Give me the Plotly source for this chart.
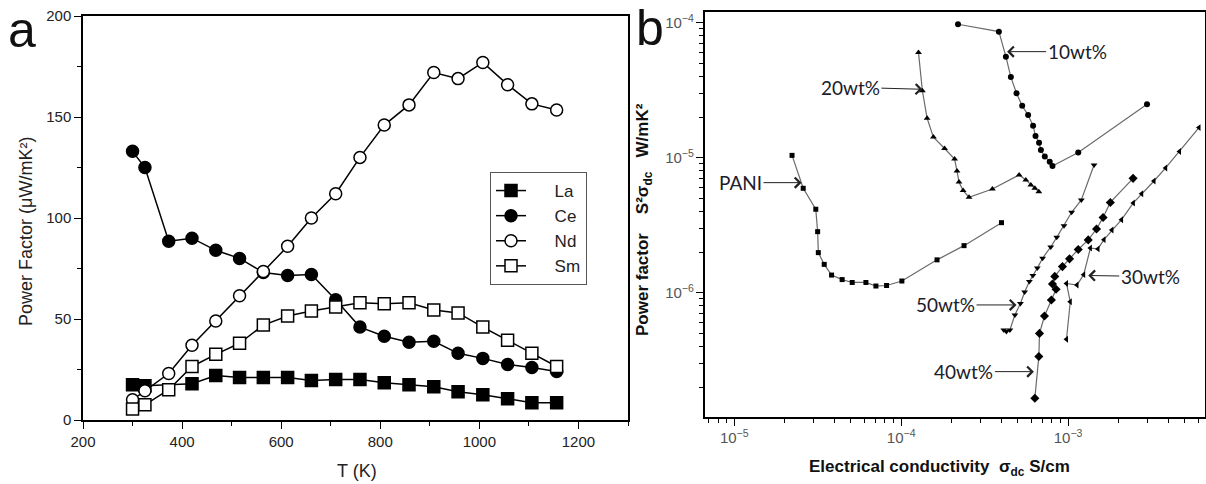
import math
import plotly.graph_objects as go

# ---------------- Panel a data ----------------
T_K = [300, 325, 373, 420, 468, 516, 564, 613, 661, 710, 759, 808, 858, 908, 957, 1007, 1057, 1106, 1156]
T_LA = [300, 325, 420, 468, 516, 564, 613, 661, 710, 759, 808, 858, 908, 957, 1007, 1057, 1106, 1156]
PF_LA = [17.5, 17, 18, 22, 21, 21, 21, 19.5, 20, 20, 18.5, 17.5, 16.5, 14, 12.5, 10.5, 8.5, 8.5]
PF_CE = [133, 125, 88.5, 90, 84, 80, 73, 71.5, 72, 59.5, 46, 41.5, 38.5, 39, 33, 30.5, 27.5, 26, 24]
PF_ND = [10, 14.5, 23, 37, 49, 61.5, 73.5, 86, 100, 112, 130, 146, 156, 172, 169, 177, 166, 156.5, 153.5]
PF_SM = [5.5, 7.5, 15, 26.5, 32.5, 38, 47, 51.5, 54, 56, 58, 57.5, 58, 54.5, 53, 46, 39.5, 33, 26.5]

# ---------------- Panel b data ----------------
PANI_X = [2.22e-5, 2.59e-5, 3.08e-5, 3.16e-5, 3.19e-5, 3.46e-5, 3.83e-5, 4.43e-5, 5.09e-5, 6.15e-5, 7.06e-5, 8.18e-5, 1.01e-4, 1.64e-4, 2.38e-4, 3.99e-4]
PANI_Y = [1.04e-5, 5.93e-6, 4.15e-6, 2.83e-6, 1.98e-6, 1.62e-6, 1.35e-6, 1.25e-6, 1.19e-6, 1.19e-6, 1.12e-6, 1.13e-6, 1.22e-6, 1.75e-6, 2.23e-6, 3.30e-6]

W10_X = [2.19e-4, 3.85e-4, 4.24e-4, 4.54e-4, 4.91e-4, 5.31e-4, 5.76e-4, 6.17e-4, 6.38e-4, 6.70e-4, 6.87e-4, 7.25e-4, 7.76e-4, 8.06e-4, 1.15e-3, 2.97e-3]
W10_Y = [9.73e-5, 8.58e-5, 5.60e-5, 3.95e-5, 3.00e-5, 2.42e-5, 2.07e-5, 1.72e-5, 1.45e-5, 1.29e-5, 1.14e-5, 1.02e-5, 9.34e-6, 8.68e-6, 1.09e-5, 2.49e-5]

W20_X = [1.27e-4, 1.34e-4, 1.43e-4, 1.56e-4, 1.82e-4, 2.09e-4, 2.16e-4, 2.22e-4, 2.35e-4, 2.55e-4, 3.52e-4, 5.09e-4, 5.58e-4, 5.98e-4, 6.32e-4, 6.68e-4]
W20_Y = [6.0e-5, 3.13e-5, 1.96e-5, 1.42e-5, 1.17e-5, 9.77e-6, 7.96e-6, 6.6e-6, 5.70e-6, 5.09e-6, 5.86e-6, 7.45e-6, 6.84e-6, 6.28e-6, 5.93e-6, 5.60e-6]

W30_X = [6.08e-3, 4.65e-3, 3.84e-3, 3.27e-3, 2.76e-3, 2.46e-3, 2.09e-3, 1.83e-3, 1.64e-3, 1.51e-3, 1.36e-3, 1.24e-3, 1.13e-3, 9.78e-4, 1.03e-3, 9.78e-4]
W30_Y = [1.67e-5, 1.11e-5, 8.39e-6, 6.72e-6, 5.40e-6, 4.62e-6, 3.47e-6, 2.91e-6, 2.47e-6, 2.11e-6, 2.14e-6, 1.36e-6, 1.14e-6, 1.17e-6, 8.57e-7, 4.52e-7]

W40_X = [2.45e-3, 1.79e-3, 1.62e-3, 1.48e-3, 1.32e-3, 1.15e-3, 1.02e-3, 9.25e-4, 8.32e-4, 8.06e-4, 8.47e-4, 7.94e-4, 7.22e-4, 6.74e-4, 6.68e-4, 6.32e-4]
W40_Y = [7.03e-6, 4.66e-6, 3.60e-6, 2.96e-6, 2.46e-6, 2.09e-6, 1.78e-6, 1.56e-6, 1.32e-6, 1.16e-6, 1.06e-6, 8.83e-7, 6.72e-7, 4.99e-7, 3.37e-7, 1.65e-7]

W50_X = [1.43e-3, 1.20e-3, 1.05e-3, 9.45e-4, 8.55e-4, 7.87e-4, 7.03e-4, 6.54e-4, 6.15e-4, 5.86e-4, 5.49e-4, 5.18e-4, 4.80e-4, 4.48e-4, 4.27e-4, 4.12e-4]
W50_Y = [8.83e-6, 4.86e-6, 3.94e-6, 3.13e-6, 2.57e-6, 2.18e-6, 1.80e-6, 1.52e-6, 1.34e-6, 1.21e-6, 1.01e-6, 8.31e-7, 6.84e-7, 5.29e-7, 5.16e-7, 5.29e-7]

# label annotations in panel b (text, target x, target y)
LABELS = ["10wt%", "20wt%", "PANI", "50wt%", "40wt%", "30wt%"]
LABEL_X = [4.31e-4, 1.34e-4, 2.53e-5, 4.91e-4, 6.24e-4, 1.32e-3]
LABEL_Y = [6.1e-5, 3.21e-5, 6.53e-6, 8.11e-7, 2.60e-7, 1.34e-6]
LABEL_AX = [70, -72, -61, -71, -70, 62]
LABEL_AY = [0, -2, 0, 0, 0, 1]

W, H = 1206, 484
FONT = "Liberation Sans, Arial, sans-serif"
PAD = "\u00a0" * 5   # widens the legend's symbol column like the reference

fig = go.Figure()

series_a = [
    ("La", T_LA, PF_LA, "square", "black"),
    ("Ce", T_K, PF_CE, "circle", "black"),
    ("Nd", T_K, PF_ND, "circle", "white"),
    ("Sm", T_K, PF_SM, "square", "white"),
]
for name, xs, ys, sym, fill in series_a:
    fig.add_trace(go.Scatter(
        x=xs, y=ys, name=PAD + name, mode="lines+markers",
        line=dict(color="black", width=1.5),
        marker=dict(symbol=sym, size=12, color=fill, line=dict(color="black", width=1.5)),
        xaxis="x", yaxis="y"))

series_b = [
    (PANI_X, PANI_Y, "square", 5),
    (W10_X, W10_Y, "circle", 6),
    (W20_X, W20_Y, "triangle-up", 6),
    (W30_X, W30_Y, "triangle-left", 6),
    (W40_X, W40_Y, "diamond", 7),
    (W50_X, W50_Y, "triangle-down", 6),
]
for xs, ys, sym, sz in series_b:
    fig.add_trace(go.Scatter(
        x=xs, y=ys, mode="lines+markers", showlegend=False,
        line=dict(color="#6a6a6a", width=1.2),
        marker=dict(symbol=sym, size=sz, color="black"),
        xaxis="x2", yaxis="y2"))

axis_common = dict(showline=True, linewidth=1.5, linecolor="black", mirror=True,
                   showgrid=False, zeroline=False, ticks="outside", tickcolor="black",
                   tickwidth=1.2, automargin=False)

fig.update_layout(
    width=W, height=H, margin=dict(l=0, r=0, t=0, b=0, pad=0, autoexpand=False),
    paper_bgcolor="white", plot_bgcolor="white",
    font=dict(family=FONT, color="#222222"),
    xaxis=dict(domain=[83 / W, 628 / W], range=[200, 1300], tick0=200, dtick=200,
               ticklen=7, tickfont=dict(size=15, color="#222"),
               minor=dict(dtick=100, ticks="outside", ticklen=4, tickcolor="black", tickwidth=1.2, showgrid=False),
               anchor="y", **axis_common),
    yaxis=dict(domain=[64 / H, 468 / H], range=[0, 200], tick0=0, dtick=50,
               ticklen=7, tickfont=dict(size=15, color="#222"),
               minor=dict(dtick=25, ticks="outside", ticklen=4, tickcolor="black", tickwidth=1.2, showgrid=False),
               anchor="x", **axis_common),
    xaxis2=dict(type="log", domain=[705 / W, 1205 / W], range=[-5.175, -2.18], dtick=1,
                exponentformat="power", showexponent="all",
                ticklen=7, tickfont=dict(size=12, color="#555"),
                minor=dict(dtick="D1", ticks="outside", ticklen=4, tickcolor="black", tickwidth=1.2, showgrid=False),
                anchor="y2", **axis_common),
    yaxis2=dict(type="log", domain=[67 / H, 472 / H], range=[-6.921, -3.921], dtick=1,
                exponentformat="power", showexponent="all",
                ticklen=7, tickfont=dict(size=12, color="#555"),
                minor=dict(dtick="D1", ticks="outside", ticklen=4, tickcolor="black", tickwidth=1.2, showgrid=False),
                anchor="x2", **axis_common),
    legend=dict(x=490 / W, y=(H - 172) / H, xanchor="left", yanchor="top",
                bordercolor="#555", borderwidth=1, bgcolor="white",
                font=dict(size=17, family=FONT, color="#222"), tracegroupgap=0,
                itemwidth=30),
)

ann = []
# panel letters
ann.append(dict(text="a", x=21.5 / W, y=(H - 30) / H, xref="paper", yref="paper",
                showarrow=False, font=dict(size=50, family=FONT, color="#111"),
                xanchor="center", yanchor="middle"))
ann.append(dict(text="b", x=650 / W, y=(H - 28) / H, xref="paper", yref="paper",
                showarrow=False, font=dict(size=50, family=FONT, color="#111"),
                xanchor="center", yanchor="middle"))
# axis titles panel a
ann.append(dict(text="Power Factor (\u03bcW/mK\u00b2)", x=26 / W, y=(H - 232) / H,
                xref="paper", yref="paper", showarrow=False, textangle=-90,
                font=dict(size=18, family=FONT, color="#222"),
                xanchor="center", yanchor="middle"))
ann.append(dict(text="T (K)", x=357 / W, y=(H - 471) / H, xref="paper", yref="paper",
                showarrow=False, font=dict(size=18, family=FONT, color="#222"),
                xanchor="center", yanchor="middle"))
# axis titles panel b
ann.append(dict(text="<b>Power factor    S\u00b2\u03c3<sub>dc</sub>   W/mK\u00b2</b>",
                x=644 / W, y=(H - 220) / H, xref="paper", yref="paper",
                showarrow=False, textangle=-90,
                font=dict(size=17, family=FONT, color="#111"),
                xanchor="center", yanchor="middle"))
ann.append(dict(text="<b>Electrical conductivity  \u03c3<sub>dc</sub> S/cm</b>",
                x=939 / W, y=(H - 468) / H, xref="paper", yref="paper",
                showarrow=False, font=dict(size=17, family=FONT, color="#111"),
                xanchor="center", yanchor="middle"))
# labelled arrows panel b
for t, lx, ly, ax, ay in zip(LABELS, LABEL_X, LABEL_Y, LABEL_AX, LABEL_AY):
    ann.append(dict(text=t, x=math.log10(lx), y=math.log10(ly), xref="x2", yref="y2",
                    showarrow=True, ax=ax, ay=ay, arrowhead=4, arrowsize=2, arrowwidth=1,
                    arrowcolor="#222", font=dict(size=19, family="Lato, Liberation Sans", color="#1c1c2a")))
fig.update_layout(annotations=ann)

fig.write_html("out.html",
               config={"displayModeBar": False},
               post_script="document.body.style.margin='0px';document.body.style.overflow='hidden';")
